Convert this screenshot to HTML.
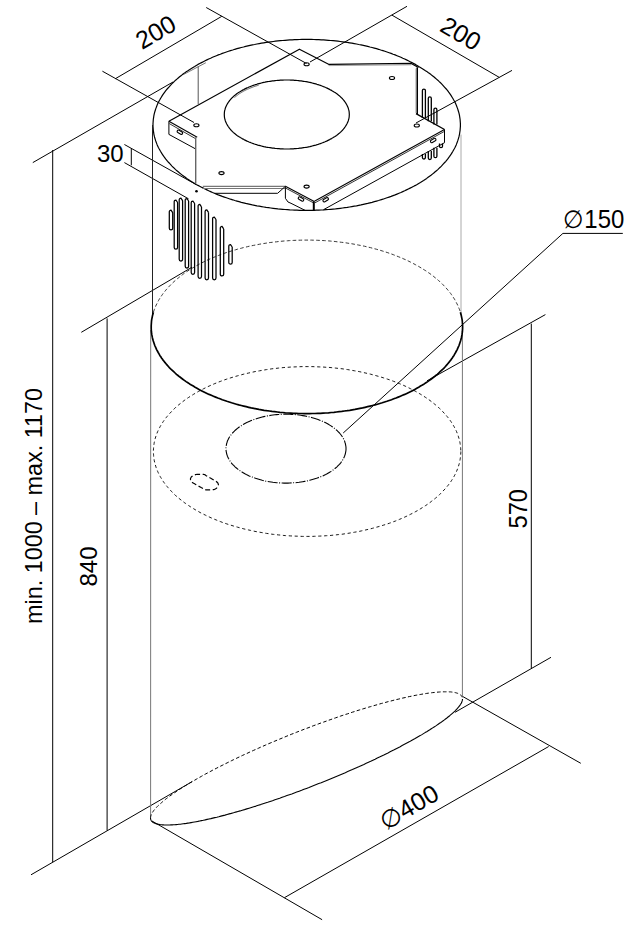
<!DOCTYPE html>
<html><head><meta charset="utf-8"><style>html,body{margin:0;padding:0;background:#fff;width:636px;height:935px;overflow:hidden}svg{display:block}text{font-family:"Liberation Sans",sans-serif}</style></head>
<body><svg width="636" height="935" viewBox="0 0 636 935" font-family="Liberation Sans, sans-serif" fill="#000"><line x1="102.4" y1="71.2" x2="194.0" y2="122.5" stroke="#000" stroke-width="1.0" />
<line x1="115.2" y1="78.8" x2="221.8" y2="16.3" stroke="#000" stroke-width="1.0" />
<line x1="206.2" y1="7.5" x2="306.5" y2="63.5" stroke="#000" stroke-width="1.0" />
<line x1="310.0" y1="62.0" x2="407.0" y2="6.3" stroke="#000" stroke-width="1.0" />
<line x1="391.9" y1="15.1" x2="499.3" y2="77.4" stroke="#000" stroke-width="1.0" />
<line x1="416.0" y1="123.0" x2="512.0" y2="70.4" stroke="#000" stroke-width="1.0" />
<line x1="32.8" y1="162.6" x2="173.0" y2="82.0" stroke="#000" stroke-width="1.0" />
<line x1="52.7" y1="150.0" x2="52.7" y2="862.2" stroke="#000" stroke-width="1.0" />
<line x1="31.0" y1="874.8" x2="192.2" y2="781.6" stroke="#000" stroke-width="1.0" />
<line x1="81.3" y1="332.3" x2="192.0" y2="267.2" stroke="#000" stroke-width="1.0" />
<line x1="107.1" y1="318.4" x2="107.1" y2="830.5" stroke="#000" stroke-width="1.0" />
<line x1="131.3" y1="148.4" x2="131.3" y2="165.3" stroke="#000" stroke-width="1.0" />
<line x1="124.4" y1="144.5" x2="196.0" y2="184.5" stroke="#000" stroke-width="1.0" />
<line x1="124.4" y1="162.6" x2="188.5" y2="198.8" stroke="#000" stroke-width="1.0" />
<line x1="427.0" y1="380.8" x2="545.4" y2="314.6" stroke="#000" stroke-width="1.0" />
<line x1="531.3" y1="323.6" x2="531.3" y2="668.3" stroke="#000" stroke-width="1.0" />
<line x1="455.0" y1="712.3" x2="551.0" y2="657.3" stroke="#000" stroke-width="1.0" />
<line x1="152.0" y1="821.0" x2="322.1" y2="919.7" stroke="#000" stroke-width="1.0" />
<line x1="462.9" y1="696.6" x2="580.8" y2="763.3" stroke="#000" stroke-width="1.0" />
<line x1="284.4" y1="897.7" x2="548.7" y2="746.5" stroke="#000" stroke-width="1.0" />
<line x1="562.9" y1="233.4" x2="622.8" y2="233.4" stroke="#000" stroke-width="1.0" />
<line x1="562.9" y1="233.4" x2="343.2" y2="433.0" stroke="#000" stroke-width="1.0" />
<path d="M460.4,124.9 L460.4,126.2 L460.3,127.6 L460.2,128.9 L460.1,130.3 L459.9,131.6 L459.7,132.9 L459.5,134.3 L459.2,135.6 L458.9,136.9 L458.5,138.3 L458.1,139.6 L457.7,140.9 L457.2,142.2 L456.7,143.6 L456.2,144.9 L455.6,146.2 L455.0,147.5 L454.3,148.8 L453.6,150.0 L452.9,151.3 L452.1,152.6 L451.3,153.9 L450.5,155.1 L449.6,156.4 L448.7,157.6 L447.8,158.9 L446.8,160.1 L445.8,161.3 L444.7,162.5 L443.6,163.7 L442.5,164.9 L441.4,166.1 L440.2,167.3 L439.0,168.4 L437.8,169.6 L436.5,170.7 L435.2,171.8 L433.8,173.0 L432.4,174.1 L431.0,175.2 L429.6,176.2 L428.1,177.3 L426.7,178.4 L425.1,179.4 L423.6,180.4 L422.0,181.4 L420.4,182.4 L418.7,183.4 L417.1,184.4 L415.4,185.4 L413.7,186.3 L411.9,187.2 L410.1,188.1 L408.3,189.0 L406.5,189.9 L404.7,190.8 L402.8,191.6 L400.9,192.5 L399.0,193.3 L397.0,194.1 L395.1,194.9 L393.1,195.6 L391.1,196.4 L389.1,197.1 L387.0,197.8 L384.9,198.5 L382.9,199.2 L380.7,199.8 L378.6,200.5 L376.5,201.1 L374.3,201.7 L372.1,202.3 L369.9,202.8 L367.7,203.4 L365.5,203.9 L363.3,204.4 L361.0,204.9 L358.8,205.3 L356.5,205.8 L354.2,206.2 L351.9,206.6 L349.6,207.0 L347.3,207.4 L344.9,207.7 L342.6,208.0 L340.2,208.3 L337.9,208.6 L335.5,208.9 L333.1,209.1 L330.7,209.3 L328.4,209.5 L326.0,209.7 L323.6,209.9 L321.2,210.0 L318.8,210.1 L316.4,210.2 L313.9,210.3 L311.5,210.4 L309.1,210.4 L306.7,210.4 L304.3,210.4 L301.9,210.4 L299.5,210.3 L297.0,210.2 L294.6,210.1 L292.2,210.0 L289.8,209.9 L287.4,209.7 L285.0,209.5 L282.7,209.3 L280.3,209.1 L277.9,208.9 L275.5,208.6 L273.2,208.3 L270.8,208.0 L268.5,207.7 L266.1,207.4 L263.8,207.0 L261.5,206.6 L259.2,206.2 L256.9,205.8 L254.6,205.3 L252.4,204.9 L250.1,204.4 L247.9,203.9 L245.7,203.4 L243.5,202.8 L241.3,202.3 L239.1,201.7 L236.9,201.1 L234.8,200.5 L232.7,199.8 L230.5,199.2 L228.5,198.5 L226.4,197.8 L224.3,197.1 L222.3,196.4 L220.3,195.6 L218.3,194.9 L216.4,194.1 L214.4,193.3 L212.5,192.5 L210.6,191.6 L208.7,190.8 L206.9,189.9 L205.1,189.0 L203.3,188.1 L201.5,187.2 L199.7,186.3 L198.0,185.4 L196.3,184.4 L194.7,183.4 L193.0,182.4 L191.4,181.4 L189.8,180.4 L188.3,179.4 L186.7,178.4 L185.3,177.3 L183.8,176.2 L182.4,175.2 L181.0,174.1 L179.6,173.0 L178.2,171.8 L176.9,170.7 L175.6,169.6 L174.4,168.4 L173.2,167.3 L172.0,166.1 L170.9,164.9 L169.8,163.7 L168.7,162.5 L167.6,161.3 L166.6,160.1 L165.6,158.9 L164.7,157.6 L163.8,156.4 L162.9,155.1 L162.1,153.9 L161.3,152.6 L160.5,151.3 L159.8,150.0 L159.1,148.8 L158.4,147.5 L157.8,146.2 L157.2,144.9 L156.7,143.6 L156.2,142.2 L155.7,140.9 L155.3,139.6 L154.9,138.3 L154.5,136.9 L154.2,135.6 L153.9,134.3 L153.7,132.9 L153.5,131.6 L153.3,130.3 L153.2,128.9 L153.1,127.6 L153.0,126.2 L153.0,124.9 L153.0,123.6 L153.1,122.2 L153.2,120.9 L153.3,119.5 L153.5,118.2 L153.7,116.9 L153.9,115.5 L154.2,114.2 L154.5,112.9 L154.9,111.5 L155.3,110.2 L155.7,108.9 L156.2,107.6 L156.7,106.2 L157.2,104.9 L157.8,103.6 L158.4,102.3 L159.1,101.0 L159.8,99.8 L160.5,98.5 L161.3,97.2 L162.1,95.9 L162.9,94.7 L163.8,93.4 L164.7,92.2 L165.6,90.9 L166.6,89.7 L167.6,88.5 L168.7,87.3 L169.8,86.1 L170.9,84.9 L172.0,83.7 L173.2,82.5 L174.4,81.4 L175.6,80.2 L176.9,79.1 L178.2,78.0 L179.6,76.8 L181.0,75.7 L182.4,74.6 L183.8,73.6 L185.3,72.5 L186.7,71.4 L188.3,70.4 L189.8,69.4 L191.4,68.4 L193.0,67.4 L194.7,66.4 L196.3,65.4 L198.0,64.4 L199.7,63.5 L201.5,62.6 L203.3,61.7 L205.1,60.8 L206.9,59.9 L208.7,59.0 L210.6,58.2 L212.5,57.3 L214.4,56.5 L216.4,55.7 L218.3,54.9 L220.3,54.2 L222.3,53.4 L224.3,52.7 L226.4,52.0 L228.5,51.3 L230.5,50.6 L232.7,50.0 L234.8,49.3 L236.9,48.7 L239.1,48.1 L241.3,47.5 L243.5,47.0 L245.7,46.4 L247.9,45.9 L250.1,45.4 L252.4,44.9 L254.6,44.5 L256.9,44.0 L259.2,43.6 L261.5,43.2 L263.8,42.8 L266.1,42.4 L268.5,42.1 L270.8,41.8 L273.2,41.5 L275.5,41.2 L277.9,40.9 L280.3,40.7 L282.7,40.5 L285.0,40.3 L287.4,40.1 L289.8,39.9 L292.2,39.8 L294.6,39.7 L297.0,39.6 L299.5,39.5 L301.9,39.4 L304.3,39.4 L306.7,39.4 L309.1,39.4 L311.5,39.4 L313.9,39.5 L316.4,39.6 L318.8,39.7 L321.2,39.8 L323.6,39.9 L326.0,40.1 L328.4,40.3 L330.7,40.5 L333.1,40.7 L335.5,40.9 L337.9,41.2 L340.2,41.5 L342.6,41.8 L344.9,42.1 L347.3,42.4 L349.6,42.8 L351.9,43.2 L354.2,43.6 L356.5,44.0 L358.8,44.5 L361.0,44.9 L363.3,45.4 L365.5,45.9 L367.7,46.4 L369.9,47.0 L372.1,47.5 L374.3,48.1 L376.5,48.7 L378.6,49.3 L380.7,50.0 L382.9,50.6 L384.9,51.3 L387.0,52.0 L389.1,52.7 L391.1,53.4 L393.1,54.2 L395.1,54.9 L397.0,55.7 L399.0,56.5 L400.9,57.3 L402.8,58.2 L404.7,59.0 L406.5,59.9 L408.3,60.8 L410.1,61.7 L411.9,62.6 L413.7,63.5 L415.4,64.4 L417.1,65.4 L418.7,66.4 L420.4,67.4 L422.0,68.4 L423.6,69.4 L425.1,70.4 L426.7,71.4 L428.1,72.5 L429.6,73.6 L431.0,74.6 L432.4,75.7 L433.8,76.8 L435.2,78.0 L436.5,79.1 L437.8,80.2 L439.0,81.4 L440.2,82.5 L441.4,83.7 L442.5,84.9 L443.6,86.1 L444.7,87.3 L445.8,88.5 L446.8,89.7 L447.8,90.9 L448.7,92.2 L449.6,93.4 L450.5,94.7 L451.3,95.9 L452.1,97.2 L452.9,98.5 L453.6,99.8 L454.3,101.0 L455.0,102.3 L455.6,103.6 L456.2,104.9 L456.7,106.2 L457.2,107.6 L457.7,108.9 L458.1,110.2 L458.5,111.5 L458.9,112.9 L459.2,114.2 L459.5,115.5 L459.7,116.9 L459.9,118.2 L460.1,119.5 L460.2,120.9 L460.3,122.2 L460.4,123.6 L460.4,124.9" fill="none" stroke="#000" stroke-width="1.2" stroke-linejoin="round" />
<line x1="152.5" y1="125.0" x2="152.5" y2="318.0" stroke="#222" stroke-width="1.0" />
<line x1="150.7" y1="330.0" x2="150.6" y2="818.0" stroke="#777" stroke-width="1.0" />
<line x1="461.0" y1="134.6" x2="461.0" y2="314.0" stroke="#aaa" stroke-width="1.0" />
<line x1="462.4" y1="326.0" x2="462.4" y2="697.0" stroke="#777" stroke-width="1.0" />
<path d="M460.4,312.2 L460.8,313.7 L461.2,315.2 L461.5,316.7 L461.8,318.2 L462.1,319.7 L462.3,321.2 L462.4,322.7 L462.5,324.2 L462.6,325.7 L462.6,327.2 L462.6,328.7 L462.5,330.2 L462.4,331.7 L462.2,333.2 L462.0,334.7 L461.7,336.2 L461.4,337.7 L461.0,339.2 L460.6,340.7 L460.1,342.2 L459.6,343.7 L459.1,345.2 L458.5,346.7 L457.8,348.1 L457.2,349.6 L456.4,351.0 L455.6,352.5 L454.8,353.9 L454.0,355.4 L453.0,356.8 L452.1,358.2 L451.1,359.6 L450.0,361.0 L448.9,362.4 L447.8,363.7 L446.6,365.1 L445.4,366.5 L444.2,367.8 L442.9,369.1 L441.5,370.4 L440.1,371.7 L438.7,373.0 L437.3,374.3 L435.8,375.5 L434.2,376.8 L432.6,378.0 L431.0,379.2 L429.4,380.4 L427.7,381.6 L425.9,382.8 L424.2,383.9 L422.4,385.0 L420.5,386.1 L418.7,387.2 L416.8,388.3 L414.8,389.4 L412.9,390.4 L410.9,391.4 L408.8,392.4 L406.8,393.4 L404.7,394.4 L402.5,395.3 L400.4,396.2 L398.2,397.1 L396.0,398.0 L393.8,398.8 L391.5,399.7 L389.2,400.5 L386.9,401.3 L384.6,402.0 L382.2,402.8 L379.8,403.5 L377.4,404.2 L375.0,404.9 L372.5,405.5 L370.1,406.1 L367.6,406.7 L365.1,407.3 L362.6,407.9 L360.0,408.4 L357.5,408.9 L354.9,409.4 L352.3,409.8 L349.7,410.3 L347.1,410.7 L344.5,411.0 L341.8,411.4 L339.2,411.7 L336.5,412.0 L333.9,412.3 L331.2,412.5 L328.5,412.8 L325.8,413.0 L323.1,413.1 L320.4,413.3 L317.7,413.4 L315.0,413.5 L312.3,413.5 L309.6,413.6 L306.9,413.6 L304.2,413.6 L301.5,413.5 L298.8,413.5 L296.1,413.4 L293.4,413.3 L290.7,413.1 L288.0,413.0 L285.3,412.8 L282.6,412.5 L279.9,412.3 L277.3,412.0 L274.6,411.7 L272.0,411.4 L269.3,411.0 L266.7,410.7 L264.1,410.3 L261.5,409.8 L258.9,409.4 L256.3,408.9 L253.8,408.4 L251.2,407.9 L248.7,407.3 L246.2,406.7 L243.7,406.1 L241.3,405.5 L238.8,404.9 L236.4,404.2 L234.0,403.5 L231.6,402.8 L229.2,402.0 L226.9,401.3 L224.6,400.5 L222.3,399.7 L220.0,398.8 L217.8,398.0 L215.6,397.1 L213.4,396.2 L211.3,395.3 L209.1,394.4 L207.0,393.4 L205.0,392.4 L202.9,391.4 L200.9,390.4 L199.0,389.4 L197.0,388.3 L195.1,387.2 L193.3,386.1 L191.4,385.0 L189.6,383.9 L187.9,382.8 L186.1,381.6 L184.4,380.4 L182.8,379.2 L181.2,378.0 L179.6,376.8 L178.0,375.5 L176.5,374.3 L175.1,373.0 L173.7,371.7 L172.3,370.4 L170.9,369.1 L169.6,367.8 L168.4,366.5 L167.2,365.1 L166.0,363.7 L164.9,362.4 L163.8,361.0 L162.7,359.6 L161.7,358.2 L160.8,356.8 L159.8,355.4 L159.0,353.9 L158.2,352.5 L157.4,351.0 L156.6,349.6 L156.0,348.1 L155.3,346.7 L154.7,345.2 L154.2,343.7 L153.7,342.2 L153.2,340.7 L152.8,339.2 L152.4,337.7 L152.1,336.2 L151.8,334.7 L151.6,333.2 L151.4,331.7 L151.3,330.2 L151.2,328.7 L151.2,327.2 L151.2,325.7 L151.3,324.2 L151.4,322.7 L151.5,321.2 L151.7,319.7 L152.0,318.2 L152.3,316.7 L152.6,315.2 L153.0,313.7 L153.4,312.2" fill="none" stroke="#000" stroke-width="1.7" stroke-linejoin="round" />
<path d="M153.4,312.2 L153.8,311.0 L154.2,309.8 L154.7,308.6 L155.2,307.4 L155.7,306.2 L156.2,305.0 L156.8,303.9 L157.4,302.7 L158.0,301.5 L158.6,300.4 L159.3,299.2 L160.0,298.1 L160.8,296.9 L161.5,295.8 L162.3,294.7 L163.1,293.5 L164.0,292.4 L164.9,291.3 L165.8,290.2 L166.7,289.1 L167.7,288.0 L168.7,286.9 L169.7,285.9 L170.7,284.8 L171.8,283.7 L172.9,282.7 L174.0,281.6 L175.2,280.6 L176.3,279.6 L177.5,278.6 L178.8,277.6 L180.0,276.6 L181.3,275.6 L182.6,274.6 L183.9,273.6 L185.3,272.7 L186.6,271.7 L188.0,270.8 L189.5,269.9 L190.9,269.0 L192.4,268.1 L193.9,267.2 L195.4,266.3 L196.9,265.5 L198.5,264.6 L200.0,263.8 L201.6,262.9 L203.3,262.1 L204.9,261.3 L206.5,260.5 L208.2,259.7 L209.9,259.0 L211.6,258.2 L213.4,257.5 L215.1,256.8 L216.9,256.1 L218.7,255.4 L220.5,254.7 L222.3,254.0 L224.2,253.4 L226.0,252.7 L227.9,252.1 L229.8,251.5 L231.7,250.9 L233.6,250.3 L235.5,249.8 L237.5,249.2 L239.4,248.7 L241.4,248.2 L243.4,247.6 L245.4,247.2 L247.4,246.7 L249.4,246.2 L251.4,245.8 L253.5,245.4 L255.5,245.0 L257.6,244.6 L259.7,244.2 L261.8,243.8 L263.8,243.5 L265.9,243.2 L268.1,242.8 L270.2,242.5 L272.3,242.3 L274.4,242.0 L276.6,241.8 L278.7,241.5 L280.9,241.3 L283.0,241.1 L285.2,240.9 L287.3,240.8 L289.5,240.6 L291.7,240.5 L293.8,240.4 L296.0,240.3 L298.2,240.2 L300.4,240.2 L302.5,240.1 L304.7,240.1 L306.9,240.1 L309.1,240.1 L311.3,240.1 L313.4,240.2 L315.6,240.2 L317.8,240.3 L320.0,240.4 L322.1,240.5 L324.3,240.6 L326.5,240.8 L328.6,240.9 L330.8,241.1 L332.9,241.3 L335.1,241.5 L337.2,241.8 L339.4,242.0 L341.5,242.3 L343.6,242.5 L345.7,242.8 L347.9,243.2 L350.0,243.5 L352.0,243.8 L354.1,244.2 L356.2,244.6 L358.3,245.0 L360.3,245.4 L362.4,245.8 L364.4,246.2 L366.4,246.7 L368.4,247.2 L370.4,247.6 L372.4,248.2 L374.4,248.7 L376.3,249.2 L378.3,249.8 L380.2,250.3 L382.1,250.9 L384.0,251.5 L385.9,252.1 L387.8,252.7 L389.6,253.4 L391.5,254.0 L393.3,254.7 L395.1,255.4 L396.9,256.1 L398.7,256.8 L400.4,257.5 L402.2,258.2 L403.9,259.0 L405.6,259.7 L407.3,260.5 L408.9,261.3 L410.5,262.1 L412.2,262.9 L413.8,263.8 L415.3,264.6 L416.9,265.5 L418.4,266.3 L419.9,267.2 L421.4,268.1 L422.9,269.0 L424.3,269.9 L425.8,270.8 L427.2,271.7 L428.5,272.7 L429.9,273.6 L431.2,274.6 L432.5,275.6 L433.8,276.6 L435.0,277.6 L436.3,278.6 L437.5,279.6 L438.6,280.6 L439.8,281.6 L440.9,282.7 L442.0,283.7 L443.1,284.8 L444.1,285.9 L445.1,286.9 L446.1,288.0 L447.1,289.1 L448.0,290.2 L448.9,291.3 L449.8,292.4 L450.7,293.5 L451.5,294.7 L452.3,295.8 L453.0,296.9 L453.8,298.1 L454.5,299.2 L455.2,300.4 L455.8,301.5 L456.4,302.7 L457.0,303.9 L457.6,305.0 L458.1,306.2 L458.6,307.4 L459.1,308.6 L459.6,309.8 L460.0,311.0 L460.4,312.2" fill="none" stroke="#222" stroke-width="0.9" stroke-linejoin="round" stroke-dasharray="3.6 2.3"/>
<path d="M460.8,451.5 L460.8,452.8 L460.7,454.2 L460.6,455.5 L460.5,456.8 L460.3,458.2 L460.1,459.5 L459.9,460.8 L459.6,462.1 L459.3,463.5 L458.9,464.8 L458.5,466.1 L458.1,467.4 L457.6,468.7 L457.1,470.0 L456.6,471.3 L456.0,472.6 L455.4,473.9 L454.7,475.2 L454.0,476.5 L453.3,477.7 L452.5,479.0 L451.7,480.3 L450.9,481.5 L450.0,482.8 L449.1,484.0 L448.2,485.2 L447.2,486.4 L446.2,487.6 L445.1,488.9 L444.0,490.0 L442.9,491.2 L441.8,492.4 L440.6,493.6 L439.4,494.7 L438.2,495.9 L436.9,497.0 L435.6,498.1 L434.2,499.2 L432.8,500.3 L431.4,501.4 L430.0,502.5 L428.5,503.5 L427.1,504.6 L425.5,505.6 L424.0,506.6 L422.4,507.6 L420.8,508.6 L419.1,509.6 L417.5,510.6 L415.8,511.5 L414.1,512.5 L412.3,513.4 L410.5,514.3 L408.7,515.2 L406.9,516.1 L405.1,516.9 L403.2,517.8 L401.3,518.6 L399.4,519.4 L397.4,520.2 L395.5,521.0 L393.5,521.7 L391.5,522.5 L389.5,523.2 L387.4,523.9 L385.3,524.6 L383.3,525.2 L381.1,525.9 L379.0,526.5 L376.9,527.1 L374.7,527.7 L372.5,528.3 L370.3,528.9 L368.1,529.4 L365.9,529.9 L363.7,530.4 L361.4,530.9 L359.2,531.4 L356.9,531.8 L354.6,532.2 L352.3,532.6 L350.0,533.0 L347.7,533.4 L345.3,533.7 L343.0,534.1 L340.6,534.4 L338.3,534.6 L335.9,534.9 L333.5,535.1 L331.1,535.4 L328.8,535.6 L326.4,535.7 L324.0,535.9 L321.6,536.0 L319.2,536.1 L316.8,536.2 L314.3,536.3 L311.9,536.4 L309.5,536.4 L307.1,536.4 L304.7,536.4 L302.3,536.4 L299.9,536.3 L297.4,536.2 L295.0,536.1 L292.6,536.0 L290.2,535.9 L287.8,535.7 L285.4,535.6 L283.1,535.4 L280.7,535.1 L278.3,534.9 L275.9,534.6 L273.6,534.4 L271.2,534.1 L268.9,533.7 L266.5,533.4 L264.2,533.0 L261.9,532.6 L259.6,532.2 L257.3,531.8 L255.0,531.4 L252.8,530.9 L250.5,530.4 L248.3,529.9 L246.1,529.4 L243.9,528.9 L241.7,528.3 L239.5,527.7 L237.3,527.1 L235.2,526.5 L233.1,525.9 L230.9,525.2 L228.9,524.6 L226.8,523.9 L224.7,523.2 L222.7,522.5 L220.7,521.7 L218.7,521.0 L216.8,520.2 L214.8,519.4 L212.9,518.6 L211.0,517.8 L209.1,516.9 L207.3,516.1 L205.5,515.2 L203.7,514.3 L201.9,513.4 L200.1,512.5 L198.4,511.5 L196.7,510.6 L195.1,509.6 L193.4,508.6 L191.8,507.6 L190.2,506.6 L188.7,505.6 L187.1,504.6 L185.7,503.5 L184.2,502.5 L182.8,501.4 L181.4,500.3 L180.0,499.2 L178.6,498.1 L177.3,497.0 L176.0,495.9 L174.8,494.7 L173.6,493.6 L172.4,492.4 L171.3,491.2 L170.2,490.0 L169.1,488.9 L168.0,487.6 L167.0,486.4 L166.0,485.2 L165.1,484.0 L164.2,482.8 L163.3,481.5 L162.5,480.3 L161.7,479.0 L160.9,477.7 L160.2,476.5 L159.5,475.2 L158.8,473.9 L158.2,472.6 L157.6,471.3 L157.1,470.0 L156.6,468.7 L156.1,467.4 L155.7,466.1 L155.3,464.8 L154.9,463.5 L154.6,462.1 L154.3,460.8 L154.1,459.5 L153.9,458.2 L153.7,456.8 L153.6,455.5 L153.5,454.2 L153.4,452.8 L153.4,451.5 L153.4,450.2 L153.5,448.8 L153.6,447.5 L153.7,446.2 L153.9,444.8 L154.1,443.5 L154.3,442.2 L154.6,440.9 L154.9,439.5 L155.3,438.2 L155.7,436.9 L156.1,435.6 L156.6,434.3 L157.1,433.0 L157.6,431.7 L158.2,430.4 L158.8,429.1 L159.5,427.8 L160.2,426.5 L160.9,425.3 L161.7,424.0 L162.5,422.7 L163.3,421.5 L164.2,420.2 L165.1,419.0 L166.0,417.8 L167.0,416.6 L168.0,415.4 L169.1,414.1 L170.2,413.0 L171.3,411.8 L172.4,410.6 L173.6,409.4 L174.8,408.3 L176.0,407.1 L177.3,406.0 L178.6,404.9 L180.0,403.8 L181.4,402.7 L182.8,401.6 L184.2,400.5 L185.7,399.5 L187.1,398.4 L188.7,397.4 L190.2,396.4 L191.8,395.4 L193.4,394.4 L195.1,393.4 L196.7,392.4 L198.4,391.5 L200.1,390.5 L201.9,389.6 L203.7,388.7 L205.5,387.8 L207.3,386.9 L209.1,386.1 L211.0,385.2 L212.9,384.4 L214.8,383.6 L216.8,382.8 L218.7,382.0 L220.7,381.3 L222.7,380.5 L224.7,379.8 L226.8,379.1 L228.9,378.4 L230.9,377.8 L233.1,377.1 L235.2,376.5 L237.3,375.9 L239.5,375.3 L241.7,374.7 L243.9,374.1 L246.1,373.6 L248.3,373.1 L250.5,372.6 L252.8,372.1 L255.0,371.6 L257.3,371.2 L259.6,370.8 L261.9,370.4 L264.2,370.0 L266.5,369.6 L268.9,369.3 L271.2,368.9 L273.6,368.6 L275.9,368.4 L278.3,368.1 L280.7,367.9 L283.1,367.6 L285.4,367.4 L287.8,367.3 L290.2,367.1 L292.6,367.0 L295.0,366.9 L297.4,366.8 L299.9,366.7 L302.3,366.6 L304.7,366.6 L307.1,366.6 L309.5,366.6 L311.9,366.6 L314.3,366.7 L316.8,366.8 L319.2,366.9 L321.6,367.0 L324.0,367.1 L326.4,367.3 L328.8,367.4 L331.1,367.6 L333.5,367.9 L335.9,368.1 L338.3,368.4 L340.6,368.6 L343.0,368.9 L345.3,369.3 L347.7,369.6 L350.0,370.0 L352.3,370.4 L354.6,370.8 L356.9,371.2 L359.2,371.6 L361.4,372.1 L363.7,372.6 L365.9,373.1 L368.1,373.6 L370.3,374.1 L372.5,374.7 L374.7,375.3 L376.9,375.9 L379.0,376.5 L381.1,377.1 L383.3,377.8 L385.3,378.4 L387.4,379.1 L389.5,379.8 L391.5,380.5 L393.5,381.3 L395.5,382.0 L397.4,382.8 L399.4,383.6 L401.3,384.4 L403.2,385.2 L405.1,386.1 L406.9,386.9 L408.7,387.8 L410.5,388.7 L412.3,389.6 L414.1,390.5 L415.8,391.5 L417.5,392.4 L419.1,393.4 L420.8,394.4 L422.4,395.4 L424.0,396.4 L425.5,397.4 L427.1,398.4 L428.5,399.5 L430.0,400.5 L431.4,401.6 L432.8,402.7 L434.2,403.8 L435.6,404.9 L436.9,406.0 L438.2,407.1 L439.4,408.3 L440.6,409.4 L441.8,410.6 L442.9,411.8 L444.0,413.0 L445.1,414.1 L446.2,415.4 L447.2,416.6 L448.2,417.8 L449.1,419.0 L450.0,420.2 L450.9,421.5 L451.7,422.7 L452.5,424.0 L453.3,425.3 L454.0,426.5 L454.7,427.8 L455.4,429.1 L456.0,430.4 L456.6,431.7 L457.1,433.0 L457.6,434.3 L458.1,435.6 L458.5,436.9 L458.9,438.2 L459.3,439.5 L459.6,440.9 L459.9,442.2 L460.1,443.5 L460.3,444.8 L460.5,446.2 L460.6,447.5 L460.7,448.8 L460.8,450.2 L460.8,451.5" fill="none" stroke="#000" stroke-width="0.9" stroke-linejoin="round" stroke-dasharray="3.2 2.7"/>
<path d="M346.0,448.6 L346.0,449.7 L345.9,450.8 L345.7,451.9 L345.5,453.0 L345.3,454.0 L344.9,455.1 L344.6,456.2 L344.1,457.2 L343.6,458.3 L343.1,459.3 L342.5,460.3 L341.8,461.3 L341.1,462.3 L340.3,463.3 L339.5,464.3 L338.6,465.2 L337.6,466.2 L336.7,467.1 L335.6,468.0 L334.5,468.9 L333.4,469.8 L332.2,470.6 L331.0,471.4 L329.7,472.2 L328.4,473.0 L327.1,473.8 L325.7,474.5 L324.2,475.2 L322.8,475.9 L321.3,476.5 L319.7,477.1 L318.1,477.7 L316.5,478.3 L314.9,478.8 L313.2,479.3 L311.5,479.8 L309.8,480.3 L308.1,480.7 L306.3,481.1 L304.5,481.4 L302.7,481.7 L300.9,482.0 L299.1,482.3 L297.2,482.5 L295.4,482.7 L293.5,482.8 L291.6,482.9 L289.8,483.0 L287.9,483.1 L286.0,483.1 L284.1,483.1 L282.2,483.0 L280.4,482.9 L278.5,482.8 L276.6,482.7 L274.8,482.5 L272.9,482.3 L271.1,482.0 L269.3,481.7 L267.5,481.4 L265.7,481.1 L263.9,480.7 L262.2,480.3 L260.5,479.8 L258.8,479.3 L257.1,478.8 L255.5,478.3 L253.9,477.7 L252.3,477.1 L250.7,476.5 L249.2,475.9 L247.8,475.2 L246.3,474.5 L244.9,473.8 L243.6,473.0 L242.3,472.2 L241.0,471.4 L239.8,470.6 L238.6,469.8 L237.5,468.9 L236.4,468.0 L235.3,467.1 L234.4,466.2 L233.4,465.2 L232.5,464.3 L231.7,463.3 L230.9,462.3 L230.2,461.3 L229.5,460.3 L228.9,459.3 L228.4,458.3 L227.9,457.2 L227.4,456.2 L227.1,455.1 L226.7,454.0 L226.5,453.0 L226.3,451.9 L226.1,450.8 L226.0,449.7 L226.0,448.6 L226.0,447.6 L226.1,446.5 L226.3,445.4 L226.5,444.3 L226.7,443.3 L227.1,442.2 L227.4,441.1 L227.9,440.1 L228.4,439.0 L228.9,438.0 L229.5,437.0 L230.2,436.0 L230.9,435.0 L231.7,434.0 L232.5,433.0 L233.4,432.1 L234.4,431.1 L235.3,430.2 L236.4,429.3 L237.5,428.4 L238.6,427.5 L239.8,426.7 L241.0,425.9 L242.3,425.1 L243.6,424.3 L244.9,423.5 L246.3,422.8 L247.8,422.1 L249.2,421.4 L250.7,420.8 L252.3,420.2 L253.9,419.6 L255.5,419.0 L257.1,418.5 L258.8,418.0 L260.5,417.5 L262.2,417.0 L263.9,416.6 L265.7,416.2 L267.5,415.9 L269.3,415.6 L271.1,415.3 L272.9,415.0 L274.8,414.8 L276.6,414.6 L278.5,414.5 L280.4,414.4 L282.2,414.3 L284.1,414.2 L286.0,414.2 L287.9,414.2 L289.8,414.3 L291.6,414.4 L293.5,414.5 L295.4,414.6 L297.2,414.8 L299.1,415.0 L300.9,415.3 L302.7,415.6 L304.5,415.9 L306.3,416.2 L308.1,416.6 L309.8,417.0 L311.5,417.5 L313.2,418.0 L314.9,418.5 L316.5,419.0 L318.1,419.6 L319.7,420.2 L321.3,420.8 L322.8,421.4 L324.2,422.1 L325.7,422.8 L327.1,423.5 L328.4,424.3 L329.7,425.1 L331.0,425.9 L332.2,426.7 L333.4,427.5 L334.5,428.4 L335.6,429.3 L336.7,430.2 L337.6,431.1 L338.6,432.1 L339.5,433.0 L340.3,434.0 L341.1,435.0 L341.8,436.0 L342.5,437.0 L343.1,438.0 L343.6,439.0 L344.1,440.1 L344.6,441.1 L344.9,442.2 L345.3,443.3 L345.5,444.3 L345.7,445.4 L345.9,446.5 L346.0,447.6 L346.0,448.6" fill="none" stroke="#000" stroke-width="1.1" stroke-linejoin="round" stroke-dasharray="10 1.5 1 1.5"/>
<path d="M196.1,474.5 L196.9,474.4 L197.9,474.3 L198.9,474.3 L199.9,474.3 L201.0,474.3 L202.0,474.3 L202.9,474.3 L203.6,474.4 L204.1,474.5 L204.5,474.5 L204.7,474.6 L204.9,474.7 L205.1,474.9 L205.4,475.1 L205.8,475.4 L206.3,475.7 L207.1,476.2 L208.1,476.8 L209.3,477.4 L210.4,478.1 L211.6,478.8 L212.8,479.5 L213.8,480.1 L214.6,480.6 L215.2,481.0 L215.8,481.3 L216.3,481.6 L216.6,481.9 L217.0,482.1 L217.3,482.3 L217.5,482.5 L217.7,482.8 L217.9,483.1 L218.1,483.4 L218.2,483.7 L218.3,483.9 L218.3,484.2 L218.4,484.5 L218.3,484.8 L218.3,485.2 L218.2,485.5 L218.1,485.8 L218.0,486.2 L217.8,486.6 L217.6,486.9 L217.4,487.3 L217.1,487.6 L216.8,487.9 L216.5,488.2 L216.1,488.5 L215.7,488.7 L215.3,489.0 L214.8,489.2 L214.3,489.4 L213.7,489.6 L213.0,489.7 L212.2,489.8 L211.2,489.9 L210.1,489.9 L209.0,489.9 L207.9,489.9 L206.8,489.8 L205.9,489.8 L205.2,489.7 L204.6,489.6 L204.3,489.6 L204.1,489.5 L204.0,489.4 L203.8,489.2 L203.6,489.0 L203.3,488.8 L202.8,488.5 L202.1,488.1 L201.2,487.6 L200.2,487.0 L199.1,486.4 L198.1,485.8 L197.0,485.2 L196.1,484.7 L195.3,484.2 L194.7,483.8 L194.1,483.5 L193.6,483.3 L193.2,483.0 L192.8,482.8 L192.4,482.6 L192.1,482.3 L191.8,482.0 L191.5,481.7 L191.2,481.4 L191.0,481.0 L190.8,480.7 L190.7,480.3 L190.6,480.0 L190.5,479.6 L190.5,479.3 L190.5,478.9 L190.5,478.6 L190.6,478.2 L190.8,477.8 L191.0,477.5 L191.2,477.1 L191.5,476.8 L191.8,476.5 L192.2,476.2 L192.6,475.9 L193.1,475.6 L193.6,475.4 L194.1,475.1 L194.7,474.9 L195.4,474.7 L196.1,474.5" fill="none" stroke="#000" stroke-width="1.2" stroke-linejoin="round" stroke-dasharray="5 2.6" stroke-dashoffset="1"/>
<path d="M349.3,114.5 L349.3,115.2 L349.2,115.9 L349.2,116.7 L349.1,117.4 L349.0,118.1 L348.8,118.8 L348.6,119.5 L348.4,120.3 L348.2,121.0 L347.9,121.7 L347.6,122.4 L347.3,123.1 L347.0,123.8 L346.6,124.5 L346.2,125.2 L345.8,125.8 L345.4,126.5 L344.9,127.2 L344.4,127.9 L343.9,128.5 L343.4,129.2 L342.8,129.8 L342.2,130.5 L341.6,131.1 L340.9,131.8 L340.3,132.4 L339.6,133.0 L338.9,133.6 L338.1,134.2 L337.4,134.8 L336.6,135.4 L335.8,135.9 L335.0,136.5 L334.1,137.0 L333.2,137.6 L332.4,138.1 L331.5,138.6 L330.5,139.1 L329.6,139.6 L328.6,140.1 L327.6,140.6 L326.6,141.1 L325.6,141.5 L324.6,142.0 L323.5,142.4 L322.5,142.8 L321.4,143.2 L320.3,143.6 L319.2,144.0 L318.1,144.4 L316.9,144.7 L315.8,145.1 L314.6,145.4 L313.4,145.7 L312.2,146.0 L311.0,146.3 L309.8,146.6 L308.6,146.8 L307.4,147.1 L306.1,147.3 L304.9,147.5 L303.6,147.7 L302.3,147.9 L301.1,148.1 L299.8,148.2 L298.5,148.4 L297.2,148.5 L295.9,148.6 L294.6,148.7 L293.3,148.8 L292.0,148.9 L290.7,148.9 L289.4,149.0 L288.1,149.0 L286.8,149.0 L285.5,149.0 L284.2,149.0 L282.9,148.9 L281.6,148.9 L280.3,148.8 L279.0,148.7 L277.7,148.6 L276.4,148.5 L275.1,148.4 L273.8,148.2 L272.5,148.1 L271.3,147.9 L270.0,147.7 L268.7,147.5 L267.5,147.3 L266.2,147.1 L265.0,146.8 L263.8,146.6 L262.6,146.3 L261.4,146.0 L260.2,145.7 L259.0,145.4 L257.8,145.1 L256.7,144.7 L255.6,144.4 L254.4,144.0 L253.3,143.6 L252.2,143.2 L251.1,142.8 L250.1,142.4 L249.0,142.0 L248.0,141.5 L247.0,141.1 L246.0,140.6 L245.0,140.1 L244.0,139.6 L243.1,139.1 L242.1,138.6 L241.2,138.1 L240.4,137.6 L239.5,137.0 L238.6,136.5 L237.8,135.9 L237.0,135.4 L236.2,134.8 L235.5,134.2 L234.7,133.6 L234.0,133.0 L233.3,132.4 L232.7,131.8 L232.0,131.1 L231.4,130.5 L230.8,129.8 L230.2,129.2 L229.7,128.5 L229.2,127.9 L228.7,127.2 L228.2,126.5 L227.8,125.8 L227.4,125.2 L227.0,124.5 L226.6,123.8 L226.3,123.1 L226.0,122.4 L225.7,121.7 L225.4,121.0 L225.2,120.3 L225.0,119.5 L224.8,118.8 L224.6,118.1 L224.5,117.4 L224.4,116.7 L224.4,115.9 L224.3,115.2 L224.3,114.5 L224.3,113.8 L224.4,113.1 L224.4,112.3 L224.5,111.6 L224.6,110.9 L224.8,110.2 L225.0,109.5 L225.2,108.7 L225.4,108.0 L225.7,107.3 L226.0,106.6 L226.3,105.9 L226.6,105.2 L227.0,104.5 L227.4,103.8 L227.8,103.2 L228.2,102.5 L228.7,101.8 L229.2,101.1 L229.7,100.5 L230.2,99.8 L230.8,99.2 L231.4,98.5 L232.0,97.9 L232.7,97.3 L233.3,96.6 L234.0,96.0 L234.7,95.4 L235.5,94.8 L236.2,94.2 L237.0,93.6 L237.8,93.1 L238.6,92.5 L239.5,92.0 L240.4,91.4 L241.2,90.9 L242.1,90.4 L243.1,89.9 L244.0,89.4 L245.0,88.9 L246.0,88.4 L247.0,87.9 L248.0,87.5 L249.0,87.0 L250.1,86.6 L251.1,86.2 L252.2,85.8 L253.3,85.4 L254.4,85.0 L255.6,84.6 L256.7,84.3 L257.8,83.9 L259.0,83.6 L260.2,83.3 L261.4,83.0 L262.6,82.7 L263.8,82.4 L265.0,82.2 L266.2,81.9 L267.5,81.7 L268.7,81.5 L270.0,81.3 L271.3,81.1 L272.5,80.9 L273.8,80.8 L275.1,80.6 L276.4,80.5 L277.7,80.4 L279.0,80.3 L280.3,80.2 L281.6,80.1 L282.9,80.1 L284.2,80.0 L285.5,80.0 L286.8,80.0 L288.1,80.0 L289.4,80.0 L290.7,80.1 L292.0,80.1 L293.3,80.2 L294.6,80.3 L295.9,80.4 L297.2,80.5 L298.5,80.6 L299.8,80.8 L301.1,80.9 L302.3,81.1 L303.6,81.3 L304.9,81.5 L306.1,81.7 L307.4,81.9 L308.6,82.2 L309.8,82.4 L311.0,82.7 L312.2,83.0 L313.4,83.3 L314.6,83.6 L315.8,83.9 L316.9,84.3 L318.0,84.6 L319.2,85.0 L320.3,85.4 L321.4,85.8 L322.5,86.2 L323.5,86.6 L324.6,87.0 L325.6,87.5 L326.6,87.9 L327.6,88.4 L328.6,88.9 L329.6,89.4 L330.5,89.9 L331.5,90.4 L332.4,90.9 L333.2,91.4 L334.1,92.0 L335.0,92.5 L335.8,93.1 L336.6,93.6 L337.4,94.2 L338.1,94.8 L338.9,95.4 L339.6,96.0 L340.3,96.6 L340.9,97.3 L341.6,97.9 L342.2,98.5 L342.8,99.2 L343.4,99.8 L343.9,100.5 L344.4,101.1 L344.9,101.8 L345.4,102.5 L345.8,103.2 L346.2,103.8 L346.6,104.5 L347.0,105.2 L347.3,105.9 L347.6,106.6 L347.9,107.3 L348.2,108.0 L348.4,108.7 L348.6,109.5 L348.8,110.2 L349.0,110.9 L349.1,111.6 L349.2,112.3 L349.2,113.1 L349.3,113.8 L349.3,114.5" fill="none" stroke="#000" stroke-width="1.2" stroke-linejoin="round" />
<path d="M234.5,97.5 L235.1,97.0 L235.7,96.5 L236.3,96.0 L237.0,95.5 L237.6,95.0 L238.3,94.5 L239.0,94.0 L239.7,93.5 L240.4,93.1 L241.1,92.6 L241.9,92.2 L242.7,91.7 L243.4,91.3 L244.2,90.9 L245.0,90.4 L245.9,90.0 L246.7,89.6 L247.5,89.2 L248.4,88.9 L249.3,88.5 L250.2,88.1 L251.1,87.8 L252.0,87.4 L252.9,87.1 L253.8,86.7 L254.8,86.4 L255.7,86.1 L256.7,85.8 L257.7,85.5 L258.7,85.2" fill="none" stroke="#444" stroke-width="0.8" stroke-linejoin="round" />
<path d="M462.5,698.9 L462.5,699.4 L462.4,699.9 L462.3,700.4 L462.2,700.9 L462.0,701.4 L461.8,702.0 L461.6,702.6 L461.3,703.1 L460.9,703.7 L460.6,704.3 L460.2,704.9 L459.7,705.6 L459.3,706.2 L458.7,706.9 L458.2,707.5 L457.6,708.2 L457.0,708.9 L456.3,709.6 L455.6,710.4 L454.9,711.1 L454.1,711.8 L453.3,712.6 L452.4,713.3 L451.5,714.1 L450.6,714.9 L449.7,715.7 L448.7,716.5 L447.7,717.3 L446.6,718.2 L445.5,719.0 L444.4,719.9 L443.2,720.7 L442.0,721.6 L440.8,722.5 L439.5,723.3 L438.2,724.2 L436.9,725.1 L435.5,726.1 L434.1,727.0 L432.7,727.9 L431.3,728.8 L429.8,729.8 L428.2,730.7 L426.7,731.7 L425.1,732.6 L423.5,733.6 L421.9,734.6 L420.2,735.6 L418.5,736.5 L416.8,737.5 L415.1,738.5 L413.3,739.5 L411.5,740.5 L409.7,741.6 L407.8,742.6 L405.9,743.6 L404.0,744.6 L402.1,745.6 L400.2,746.7 L398.2,747.7 L396.2,748.7 L394.2,749.8 L392.1,750.8 L390.1,751.8 L388.0,752.9 L385.9,753.9 L383.8,755.0 L381.7,756.0 L379.5,757.1 L377.3,758.1 L375.1,759.2 L372.9,760.2 L370.7,761.3 L368.5,762.3 L366.2,763.3 L363.9,764.4 L361.6,765.4 L359.3,766.5 L357.0,767.5 L354.7,768.5 L352.4,769.6 L350.0,770.6 L347.7,771.6 L345.3,772.7 L342.9,773.7 L340.5,774.7 L338.1,775.7 L335.7,776.7 L333.3,777.7 L330.9,778.7 L328.5,779.7 L326.1,780.7 L323.6,781.7 L321.2,782.7 L318.7,783.6 L316.3,784.6 L313.8,785.6 L311.4,786.5 L309.0,787.5 L306.5,788.4 L304.0,789.3 L301.6,790.3 L299.2,791.2 L296.7,792.1 L294.3,793.0 L291.8,793.9 L289.4,794.7 L286.9,795.6 L284.5,796.5 L282.1,797.3 L279.7,798.2 L277.3,799.0 L274.9,799.8 L272.5,800.7 L270.1,801.5 L267.7,802.3 L265.3,803.0 L263.0,803.8 L260.6,804.6 L258.3,805.3 L256.0,806.1 L253.7,806.8 L251.4,807.5 L249.1,808.2 L246.8,808.9 L244.5,809.6 L242.3,810.2 L240.1,810.9 L237.9,811.5 L235.7,812.1 L233.5,812.8 L231.3,813.4 L229.2,813.9 L227.1,814.5 L225.0,815.1 L222.9,815.6 L220.9,816.1 L218.8,816.7 L216.8,817.2 L214.8,817.6 L212.8,818.1 L210.9,818.6 L209.0,819.0 L207.1,819.4 L205.2,819.9 L203.3,820.3 L201.5,820.6 L199.7,821.0 L197.9,821.4 L196.2,821.7 L194.5,822.0 L192.8,822.3 L191.1,822.6 L189.5,822.9 L187.9,823.1 L186.3,823.4 L184.8,823.6 L183.2,823.8 L181.7,824.0 L180.3,824.2 L178.9,824.3 L177.5,824.5 L176.1,824.6 L174.8,824.7 L173.5,824.8 L172.2,824.9 L171.0,824.9 L169.8,825.0 L168.6,825.0 L167.5,825.0 L166.4,825.0 L165.3,825.0 L164.3,825.0 L163.3,824.9 L162.4,824.9 L161.5,824.8 L160.6,824.7 L159.7,824.5 L158.9,824.4 L158.1,824.3 L157.4,824.1 L156.7,823.9 L156.0,823.7 L155.4,823.5 L154.8,823.3 L154.3,823.0 L153.7,822.7 L153.3,822.5 L152.8,822.2 L152.4,821.9 L152.1,821.5 L151.7,821.2 L151.4,820.8 L151.2,820.5 L151.0,820.1 L150.8,819.7 L150.7,819.2 L150.6,818.8 L150.5,818.4 L150.5,817.9" fill="none" stroke="#000" stroke-width="1.1" stroke-linejoin="round" />
<path d="M150.5,817.9 L150.5,817.4 L150.6,816.9 L150.7,816.4 L150.8,815.9 L151.0,815.4 L151.2,814.8 L151.4,814.2 L151.7,813.7 L152.1,813.1 L152.4,812.5 L152.8,811.9 L153.3,811.2 L153.7,810.6 L154.3,809.9 L154.8,809.3 L155.4,808.6 L156.0,807.9 L156.7,807.2 L157.4,806.4 L158.1,805.7 L158.9,805.0 L159.7,804.2 L160.6,803.5 L161.5,802.7 L162.4,801.9 L163.3,801.1 L164.3,800.3 L165.3,799.5 L166.4,798.6 L167.5,797.8 L168.6,796.9 L169.8,796.1 L171.0,795.2 L172.2,794.3 L173.5,793.5 L174.8,792.6 L176.1,791.7 L177.5,790.7 L178.9,789.8 L180.3,788.9 L181.7,788.0 L183.2,787.0 L184.8,786.1 L186.3,785.1 L187.9,784.2 L189.5,783.2 L191.1,782.2 L192.8,781.2 L194.5,780.3 L196.2,779.3 L197.9,778.3 L199.7,777.3 L201.5,776.3 L203.3,775.2 L205.2,774.2 L207.1,773.2 L209.0,772.2 L210.9,771.2 L212.8,770.1 L214.8,769.1 L216.8,768.1 L218.8,767.0 L220.9,766.0 L222.9,765.0 L225.0,763.9 L227.1,762.9 L229.2,761.8 L231.3,760.8 L233.5,759.7 L235.7,758.7 L237.9,757.6 L240.1,756.6 L242.3,755.5 L244.5,754.5 L246.8,753.5 L249.1,752.4 L251.4,751.4 L253.7,750.3 L256.0,749.3 L258.3,748.3 L260.6,747.2 L263.0,746.2 L265.3,745.2 L267.7,744.1 L270.1,743.1 L272.5,742.1 L274.9,741.1 L277.3,740.1 L279.7,739.1 L282.1,738.1 L284.5,737.1 L286.9,736.1 L289.4,735.1 L291.8,734.1 L294.3,733.2 L296.7,732.2 L299.2,731.2 L301.6,730.3 L304.0,729.3 L306.5,728.4 L309.0,727.5 L311.4,726.5 L313.8,725.6 L316.3,724.7 L318.7,723.8 L321.2,722.9 L323.6,722.1 L326.1,721.2 L328.5,720.3 L330.9,719.5 L333.3,718.6 L335.7,717.8 L338.1,717.0 L340.5,716.1 L342.9,715.3 L345.3,714.5 L347.7,713.8 L350.0,713.0 L352.4,712.2 L354.7,711.5 L357.0,710.7 L359.3,710.0 L361.6,709.3 L363.9,708.6 L366.2,707.9 L368.5,707.2 L370.7,706.6 L372.9,705.9 L375.1,705.3 L377.3,704.7 L379.5,704.0 L381.7,703.4 L383.8,702.9 L385.9,702.3 L388.0,701.7 L390.1,701.2 L392.1,700.7 L394.2,700.1 L396.2,699.6 L398.2,699.2 L400.2,698.7 L402.1,698.2 L404.0,697.8 L405.9,697.4 L407.8,696.9 L409.7,696.5 L411.5,696.2 L413.3,695.8 L415.1,695.4 L416.8,695.1 L418.5,694.8 L420.2,694.5 L421.9,694.2 L423.5,693.9 L425.1,693.7 L426.7,693.4 L428.2,693.2 L429.8,693.0 L431.3,692.8 L432.7,692.6 L434.1,692.5 L435.5,692.3 L436.9,692.2 L438.2,692.1 L439.5,692.0 L440.8,691.9 L442.0,691.9 L443.2,691.8 L444.4,691.8 L445.5,691.8 L446.6,691.8 L447.7,691.8 L448.7,691.8 L449.7,691.9 L450.6,691.9 L451.5,692.0 L452.4,692.1 L453.3,692.3 L454.1,692.4 L454.9,692.5 L455.6,692.7 L456.3,692.9 L457.0,693.1 L457.6,693.3 L458.2,693.5 L458.7,693.8 L459.3,694.1 L459.7,694.3 L460.2,694.6 L460.6,694.9 L460.9,695.3 L461.3,695.6 L461.6,696.0 L461.8,696.3 L462.0,696.7 L462.2,697.1 L462.3,697.6 L462.4,698.0 L462.5,698.4 L462.5,698.9" fill="none" stroke="#000" stroke-width="1.0" stroke-linejoin="round" stroke-dasharray="3.6 2.3"/>
<path d="M168.9,121.2 L299.4,49.2 L328.6,64.3 L411.2,63.4 L418.5,67.6" fill="none" stroke="#000" stroke-width="1.2" stroke-linejoin="round" />
<line x1="328.6" y1="65.6" x2="411.2" y2="64.8" stroke="#777" stroke-width="0.7" />
<line x1="198.2" y1="66.5" x2="198.2" y2="104.2" stroke="#555" stroke-width="1.0" />
<line x1="417.2" y1="67.6" x2="417.2" y2="114.0" stroke="#000" stroke-width="1.6" />
<line x1="415.9" y1="68.5" x2="415.9" y2="113.0" stroke="#999" stroke-width="0.8" />
<line x1="183.1" y1="74.7" x2="205.9" y2="62.7" stroke="#555" stroke-width="0.8" />
<line x1="168.9" y1="121.2" x2="197.2" y2="137.2" stroke="#000" stroke-width="1.1" />
<line x1="169.3" y1="123.6" x2="195.6" y2="138.7" stroke="#000" stroke-width="0.8" />
<line x1="168.9" y1="121.2" x2="168.9" y2="134.4" stroke="#000" stroke-width="1.0" />
<line x1="168.9" y1="134.4" x2="195.0" y2="148.6" stroke="#000" stroke-width="1.0" />
<line x1="195.7" y1="137.2" x2="195.7" y2="183.5" stroke="#666" stroke-width="1.4" />
<line x1="202.8" y1="186.3" x2="285.4" y2="186.3" stroke="#555" stroke-width="1.0" />
<line x1="202.8" y1="188.5" x2="285.4" y2="188.5" stroke="#777" stroke-width="1.0" />
<line x1="214.6" y1="193.3" x2="277.6" y2="193.3" stroke="#000" stroke-width="1.0" />
<line x1="277.6" y1="193.3" x2="285.4" y2="186.3" stroke="#000" stroke-width="1.0" />
<line x1="285.4" y1="186.3" x2="313.8" y2="201.2" stroke="#000" stroke-width="1.1" />
<line x1="286.0" y1="188.3" x2="313.0" y2="202.6" stroke="#000" stroke-width="0.8" />
<path d="M285.4,186.3 L285.4,198.3 L288.0,202.0 L291.0,203.3 L305.2,210.4" fill="none" stroke="#000" stroke-width="1.0" stroke-linejoin="round" />
<line x1="313.8" y1="201.2" x2="313.8" y2="210.4" stroke="#000" stroke-width="2.0" />
<line x1="444.5" y1="129.5" x2="314.4" y2="201.2" stroke="#000" stroke-width="1.1" />
<line x1="444.0" y1="131.6" x2="315.0" y2="202.8" stroke="#000" stroke-width="0.8" />
<line x1="444.5" y1="129.5" x2="444.5" y2="142.7" stroke="#000" stroke-width="1.0" />
<line x1="444.5" y1="142.7" x2="323.5" y2="209.7" stroke="#000" stroke-width="1.0" />
<line x1="416.0" y1="113.6" x2="444.5" y2="129.5" stroke="#000" stroke-width="1.4" />
<ellipse cx="196.4" cy="125.2" rx="2.6" ry="1.5" fill="none" stroke="#000" stroke-width="1.1"/>
<ellipse cx="221.5" cy="173.1" rx="2.6" ry="1.5" fill="none" stroke="#000" stroke-width="1.1"/>
<ellipse cx="306.6" cy="64.3" rx="2.6" ry="1.5" fill="none" stroke="#000" stroke-width="1.1"/>
<ellipse cx="392" cy="78" rx="2.6" ry="1.5" fill="none" stroke="#000" stroke-width="1.1"/>
<ellipse cx="416.8" cy="125.5" rx="2.6" ry="1.5" fill="none" stroke="#000" stroke-width="1.1"/>
<ellipse cx="306.6" cy="186.6" rx="2.6" ry="1.5" fill="none" stroke="#000" stroke-width="1.1"/>
<rect x="176.9" y="130.89999999999998" width="6" height="2.6" rx="1.3" transform="rotate(30 179.9 132.2)" fill="none" stroke="#000" stroke-width="1.1"/>
<rect x="298" y="197.7" width="6" height="2.6" rx="1.3" transform="rotate(30 301 199)" fill="none" stroke="#000" stroke-width="1.1"/>
<rect x="322.7" y="198.5" width="6" height="2.6" rx="1.3" transform="rotate(-30 325.7 199.8)" fill="none" stroke="#000" stroke-width="1.1"/>
<rect x="430.2" y="139.2" width="6" height="2.6" rx="1.3" transform="rotate(-30 433.2 140.5)" fill="none" stroke="#000" stroke-width="1.1"/>
<circle cx="196.5" cy="191.3" r="1.3" fill="#000"/>
<path d="M172.7,212.6 L172.7,228.20000000000002 A1.7,1.7 0 0 1 169.3,228.20000000000002 L169.3,211.79999999999998 A1.7,1.7 0 0 1 171,210.1 L172.7,212.6" fill="none" stroke="#000" stroke-width="1.25"/>
<path d="M177.6,202.5 L177.6,247.5 A1.7,1.7 0 0 1 174.20000000000002,247.5 L174.20000000000002,201.7 A1.7,1.7 0 0 1 175.9,200 L177.6,202.5" fill="none" stroke="#000" stroke-width="1.25"/>
<path d="M182.6,200.6 L182.6,259.3 A1.7,1.7 0 0 1 179.20000000000002,259.3 L179.20000000000002,199.79999999999998 A1.7,1.7 0 0 1 180.9,198.1 L182.6,200.6" fill="none" stroke="#000" stroke-width="1.25"/>
<path d="M188.6,201.0 L188.6,266.3 A1.7,1.7 0 0 1 185.20000000000002,266.3 L185.20000000000002,200.2 A1.7,1.7 0 0 1 186.9,198.5 L188.6,201.0" fill="none" stroke="#000" stroke-width="1.25"/>
<path d="M194.6,203.5 L194.6,272.6 A1.7,1.7 0 0 1 191.20000000000002,272.6 L191.20000000000002,202.7 A1.7,1.7 0 0 1 192.9,201 L194.6,203.5" fill="none" stroke="#000" stroke-width="1.25"/>
<path d="M201.5,206.9 L201.5,276.6 A1.7,1.7 0 0 1 198.10000000000002,276.6 L198.10000000000002,206.1 A1.7,1.7 0 0 1 199.8,204.4 L201.5,206.9" fill="none" stroke="#000" stroke-width="1.25"/>
<path d="M208.5,212.4 L208.5,278.1 A1.7,1.7 0 0 1 205.10000000000002,278.1 L205.10000000000002,211.6 A1.7,1.7 0 0 1 206.8,209.9 L208.5,212.4" fill="none" stroke="#000" stroke-width="1.25"/>
<path d="M216.0,219.5 L216.0,278.1 A1.7,1.7 0 0 1 212.60000000000002,278.1 L212.60000000000002,218.7 A1.7,1.7 0 0 1 214.3,217 L216.0,219.5" fill="none" stroke="#000" stroke-width="1.25"/>
<path d="M223.7,228.9 L223.7,274.3 A1.7,1.7 0 0 1 220.3,274.3 L220.3,228.1 A1.7,1.7 0 0 1 222,226.4 L223.7,228.9" fill="none" stroke="#000" stroke-width="1.25"/>
<path d="M232.2,247.0 L232.2,262.40000000000003 A1.7,1.7 0 0 1 228.8,262.40000000000003 L228.8,246.2 A1.7,1.7 0 0 1 230.5,244.5 L232.2,247.0" fill="none" stroke="#000" stroke-width="1.25"/>
<path d="M422.4,118 L422.4,90.6 A1.5,1.5 0 0 1 425.4,90.6 L425.4,118" fill="none" stroke="#000" stroke-width="1.3"/>
<path d="M428.3,121.3 L428.3,98.3 A1.5,1.5 0 0 1 431.3,98.3 L431.3,121.3" fill="none" stroke="#000" stroke-width="1.3"/>
<path d="M433.9,124.5 L433.9,109.7 A1.5,1.5 0 0 1 436.9,109.7 L436.9,124.5" fill="none" stroke="#000" stroke-width="1.3"/>
<path d="M422.4,154 L422.4,157.5 A1.5,1.5 0 0 0 425.4,157.5 L425.4,154" fill="none" stroke="#000" stroke-width="1.3"/>
<path d="M428.3,151 L428.3,158.0 A1.5,1.5 0 0 0 431.3,158.0 L431.3,151" fill="none" stroke="#000" stroke-width="1.3"/>
<path d="M433.9,147.7 L433.9,156.2 A1.5,1.5 0 0 0 436.9,156.2 L436.9,147.7" fill="none" stroke="#000" stroke-width="1.3"/>
<path d="M439.5,143.6 L439.5,146.2 A1.5,1.5 0 0 0 442.5,146.2 L442.5,143.6" fill="none" stroke="#000" stroke-width="1.3"/>
<text x="0" y="0" font-size="25" transform="translate(142 50) rotate(-30) scale(1.0 1.0)" text-anchor="start">200</text>
<text x="0" y="0" font-size="25" transform="translate(438.5 30.6) rotate(30) scale(1.0 1.0)" text-anchor="start">200</text>
<text x="0" y="0" font-size="24" transform="translate(97 162) rotate(0) scale(1.0 1.0)" text-anchor="start">30</text>
<text x="0" y="0" font-size="24" transform="translate(42.2 624) rotate(-90) scale(1.0 1.0)" text-anchor="start" textLength="236" lengthAdjust="spacingAndGlyphs">min. 1000 &#8211; max. 1170</text>
<text x="0" y="0" font-size="24" transform="translate(97.3 586.5) rotate(-90) scale(1.0 1.0)" text-anchor="start">840</text>
<text x="0" y="0" font-size="25" transform="translate(526.8 528.5) rotate(-90) scale(0.945 1.0)" text-anchor="start">570</text>
<text x="0" y="0" font-size="25.5" transform="translate(563 228) rotate(0) scale(0.94 1.0)" text-anchor="start">&#8709;150</text>
<text x="0" y="0" font-size="25" transform="translate(385.5 830.5) rotate(-30) scale(1.0 1.0)" text-anchor="start">&#8709;400</text></svg></body></html>
